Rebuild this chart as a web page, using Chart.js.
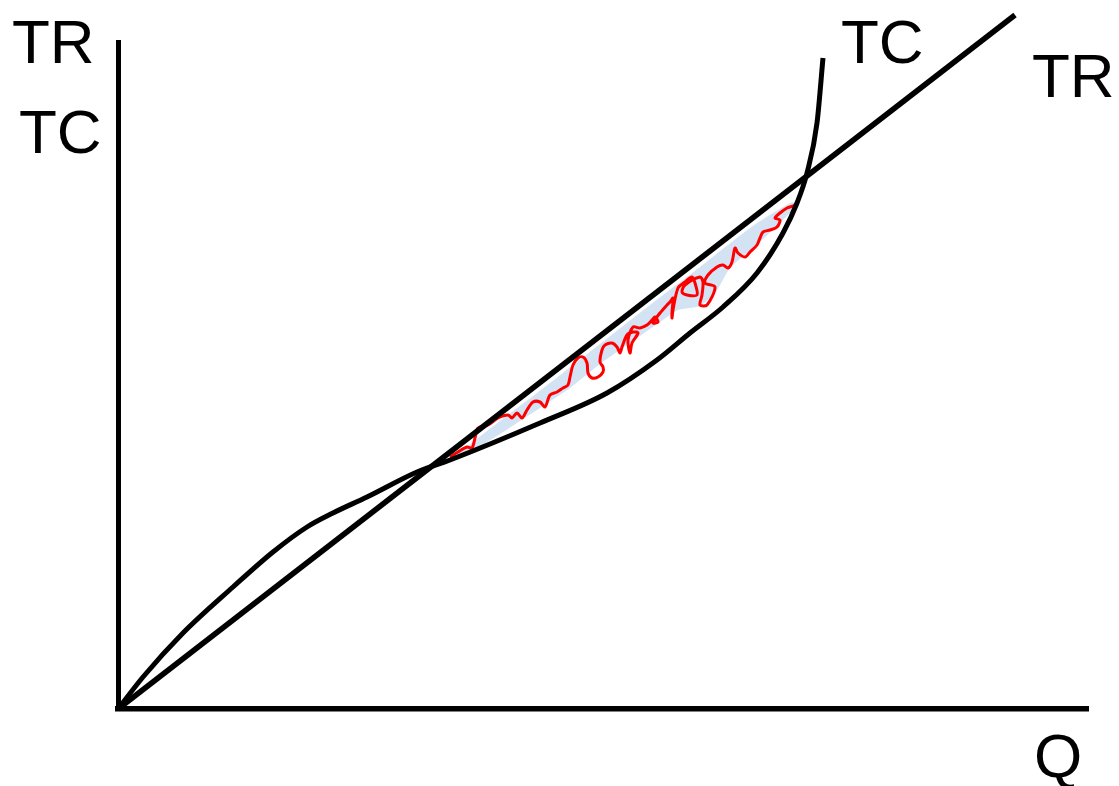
<!DOCTYPE html>
<html lang="en">
<head>
    <meta charset="UTF-8">
    <title>TR and TC</title>
    <script src="https://cdn.jsdelivr.net/npm/chart.js"></script>
    <style>
        body {
            margin: 0;
            background: #ffffff;
        }
    </style>
</head>
<body>
    <canvas id="costChart" width="1119" height="786"></canvas>

    <script>
        // quantity / value points
        const trQ = [0, 89.7];
        const trValue = [0, 69.4];

        const tcQ = [0, 2.5, 6.5, 11.5, 15.5, 18.9, 21.5, 24.9, 29.9, 33.2, 42.2, 48.9, 53.9, 57.2, 60.5, 63.9, 66.5, 67.9, 68.9, 69.9, 70.5];
        const tcValue = [0, 3.2, 7.6, 12.2, 15.7, 18.2, 19.6, 21.2, 23.7, 24.9, 28.6, 31.6, 34.9, 37.6, 40.2, 43.6, 47.6, 50.6, 53.6, 58.6, 65.1];

        // red scribble over the profit area
        const scribbleQ = [33.2, 34.0, 34.9, 35.4, 35.7, 36.0, 37.0, 38.0, 39.0, 39.4, 39.9, 40.4, 40.9, 41.5, 42.2, 42.7, 43.2, 43.9, 44.5, 45.0,
            45.2, 45.5, 46.0, 46.5, 46.9, 47.0, 47.4, 48.0, 48.5, 48.5, 48.2, 48.4, 48.7, 49.4, 49.9, 50.2, 50.4, 50.9, 51.5, 52.0,
            51.4, 51.2, 51.0, 51.5, 52.2, 52.9, 53.4, 53.7, 54.0, 53.5, 54.2, 54.9, 55.2, 55.5, 55.4, 55.4, 55.5, 56.0, 56.7, 57.4,
            57.7, 57.9, 56.9, 56.4, 56.7, 58.2, 58.5, 58.4, 58.2, 58.9, 59.7, 58.7, 59.0, 59.9, 60.5, 61.0, 61.4, 61.7, 62.0, 62.7,
            63.2, 63.9, 64.2, 64.5, 65.2, 65.9, 66.2, 65.7, 66.2, 66.9, 67.7, 68.0];
        const scribbleValue = [25.2, 25.7, 26.2, 26.1, 27.1, 28.1, 28.4, 29.1, 29.4, 29.1, 29.6, 29.1, 29.9, 30.7, 30.7, 30.2, 31.4, 31.7, 32.1, 32.4,
            33.2, 34.4, 35.1, 35.2, 34.6, 33.6, 33.1, 33.2, 33.7, 34.2, 34.7, 35.9, 36.4, 36.6, 36.2, 35.6, 36.2, 37.4, 37.7, 37.6,
            36.6, 35.6, 36.9, 38.2, 38.1, 38.4, 38.9, 39.2, 38.7, 38.6, 39.6, 40.4, 40.7, 41.1, 39.7, 39.1, 39.9, 42.1, 42.7, 43.2,
            42.6, 41.4, 41.4, 41.7, 42.4, 43.2, 42.7, 41.4, 40.4, 40.4, 42.2, 42.6, 43.4, 44.2, 44.4, 44.1, 44.7, 46.1, 45.6, 45.2,
            45.7, 46.4, 47.1, 47.7, 47.9, 48.2, 48.9, 49.1, 49.6, 50.1, 50.4, 50.9];

        // light blue shading under the scribble (closed outline)
        const shadeQ = [33.4, 38.2, 43.2, 48.2, 53.2, 58.2, 63.2, 67.4, 67.8, 64.2, 61.2, 59.8, 58.2, 56.0, 54.2, 52.2, 48.2, 45.2, 42.2, 38.2, 35.2, 33.4];
        const shadeValue = [25.1, 28.8, 32.6, 36.5, 40.4, 44.2, 48.1, 50.7, 50.3, 46.7, 44.1, 41.7, 40.3, 39.9, 38.7, 37.3, 34.5, 32.1, 30.1, 27.5, 25.7, 24.9];

        const yAxisLabel = ['TR', 'TC'];
        const xAxisLabel = 'Q';
        const curveLabels = ['TC', 'TR'];

        const toPoints = (xs, ys) => xs.map((x, i) => ({ x: x, y: ys[i] }));

        const labelFont = '62px "Liberation Sans", Arial, sans-serif';

        const textPlugin = {
            id: 'textLabels',
            afterDraw(chart) {
                const ctx = chart.ctx;
                ctx.save();
                ctx.fillStyle = '#000000';
                ctx.font = labelFont;
                ctx.textBaseline = 'alphabetic';
                ctx.textAlign = 'left';
                ctx.fillText(yAxisLabel[0], 12, 63);
                ctx.fillText(yAxisLabel[1], 19, 153);
                ctx.fillText(curveLabels[0], 841, 63);
                ctx.fillText(curveLabels[1], 1032, 97);
                ctx.fillText(xAxisLabel, 1034, 777);
                ctx.restore();
            }
        };

        new Chart(document.getElementById('costChart'), {
            type: 'scatter',
            data: {
                datasets: [
                    {
                        label: 'TR',
                        data: toPoints(trQ, trValue),
                        showLine: true,
                        borderColor: '#000000',
                        borderWidth: 5.5,
                        pointRadius: 0,
                        clip: false,
                        order: 0
                    },
                    {
                        label: 'TC',
                        data: toPoints(tcQ, tcValue),
                        showLine: true,
                        borderColor: '#000000',
                        borderWidth: 5,
                        pointRadius: 0,
                        cubicInterpolationMode: 'monotone',
                        clip: false,
                        order: 1
                    },
                    {
                        label: 'scribble',
                        data: toPoints(scribbleQ, scribbleValue),
                        showLine: true,
                        borderColor: '#ff0000',
                        borderWidth: 3,
                        pointRadius: 0,
                        tension: 0.3,
                        clip: false,
                        order: 2
                    },
                    {
                        label: 'shade',
                        data: toPoints(shadeQ, shadeValue),
                        showLine: true,
                        borderColor: 'rgba(0,0,0,0)',
                        borderWidth: 0,
                        backgroundColor: '#d3e3f4',
                        fill: 'shape',
                        pointRadius: 0,
                        tension: 0.2,
                        clip: false,
                        order: 3
                    }
                ]
            },
            options: {
                responsive: false,
                animation: false,
                devicePixelRatio: 1,
                layout: {
                    padding: { left: 118, right: 31, top: 42, bottom: 77 }
                },
                plugins: {
                    legend: { display: false },
                    tooltip: { enabled: false }
                },
                scales: {
                    x: {
                        type: 'linear',
                        min: 0,
                        max: 97,
                        grid: { display: false },
                        ticks: { display: false },
                        border: { display: true, color: '#000000', width: 5.5 },
                        afterFit: (scale) => { scale.height = 0; }
                    },
                    y: {
                        type: 'linear',
                        min: 0,
                        max: 66.7,
                        grid: { display: false },
                        ticks: { display: false },
                        border: { display: true, color: '#000000', width: 5 },
                        afterFit: (scale) => { scale.width = 0; }
                    }
                }
            },
            plugins: [textPlugin]
        });
    </script>
</body>
</html>
